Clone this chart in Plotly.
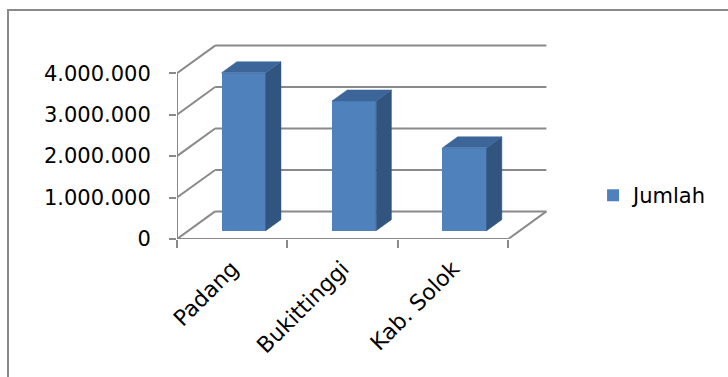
import plotly.graph_objects as go

# --- data -------------------------------------------------------------------
categories = ["Padang", "Bukittinggi", "Kab. Solok"]
jumlah = [3810000, 3130000, 2000000]
y_ticks = [0, 1000000, 2000000, 3000000, 4000000]
series_name = "Jumlah"

# --- oblique 3-D look --------------------------------------------------------
DX = 0.345          # depth shift along x (category units)
DY = 665000         # depth shift along y (value units)
BAR_W = 0.4         # bar width (category units)
D0, D1 = 0.3, 0.7   # bar depth span (fraction of the floor depth)

FRONT = "#4F81BD"
SIDE = "#31557F"
TOP = "#3C6699"
GRID = "#8A8A8A"
FONT = "DejaVu Sans"

n = len(categories)
x_max = 3.45
y_max = 4800000

slots = [i + 0.5 for i in range(n)]
centers = [s + D0 * DX for s in slots]
base = D0 * DY
dxb = (D1 - D0) * DX
dyb = (D1 - D0) * DY

fig = go.Figure()

# side and top faces of each bar
side_x, side_y, top_x, top_y = [], [], [], []
for c, v in zip(centers, jumlah):
    xl, xr = c - BAR_W / 2, c + BAR_W / 2
    yt = base + v
    side_x += [xr, xr, xr + dxb, xr + dxb, xr, None]
    side_y += [base, yt, yt + dyb, base + dyb, base, None]
    top_x += [xl, xr, xr + dxb, xl + dxb, xl, None]
    top_y += [yt, yt, yt + dyb, yt + dyb, yt, None]

fig.add_trace(go.Scatter(x=side_x, y=side_y, fill="toself", fillcolor=SIDE,
                         mode="lines", line=dict(width=0.5, color=SIDE),
                         showlegend=False, hoverinfo="skip"))
fig.add_trace(go.Scatter(x=top_x, y=top_y, fill="toself", fillcolor=TOP,
                         mode="lines", line=dict(width=0.5, color=TOP),
                         showlegend=False, hoverinfo="skip"))

# front faces
fig.add_trace(go.Bar(x=centers, y=jumlah, base=base, width=BAR_W,
                     name=series_name, marker=dict(color=FRONT, line=dict(width=0)),
                     showlegend=True))

# walls and floor, drawn beneath the bars
shapes = []
def seg(x0, y0, x1, y1):
    shapes.append(dict(type="line", xref="x", yref="y", x0=x0, y0=y0, x1=x1, y1=y1,
                       line=dict(color=GRID, width=2), layer="below"))

for t in y_ticks:
    seg(DX, t + DY, n + DX, t + DY)   # back wall gridline
    seg(0, t, DX, t + DY)             # side wall gridline
seg(0, 0, n, 0)                       # floor front edge
seg(n, 0, n + DX, DY)                 # floor right edge
seg(0, 0, 0, y_ticks[-1])             # vertical axis

# chart-area border
shapes.append(dict(type="rect", xref="paper", yref="paper",
                   x0=(8 - 177) / 381, x1=1.6, y0=-0.9, y1=(239 - 10) / 199,
                   line=dict(color=GRID, width=2), fillcolor="rgba(0,0,0,0)", layer="below"))

fig.update_layout(
    width=728, height=377,
    margin=dict(l=177, r=170, t=40, b=138, autoexpand=False),
    paper_bgcolor="white", plot_bgcolor="white",
    separators=",.",
    bargap=0,
    shapes=shapes,
    font=dict(family=FONT, size=21, color="black"),
    xaxis=dict(range=[0, x_max], tickvals=slots, ticktext=categories,
               tickangle=-45, ticks="outside", ticklen=7, tickcolor="rgba(0,0,0,0)",
               showgrid=False, zeroline=False, showline=False,
               tickfont=dict(family=FONT, size=22)),
    xaxis2=dict(range=[0, x_max], overlaying="x", anchor="y", side="bottom",
                tickvals=list(range(n + 1)), ticks="outside", ticklen=8, tickwidth=2,
                tickcolor=GRID, showticklabels=False, showgrid=False,
                zeroline=False, showline=False),
    yaxis=dict(range=[0, y_max], tickvals=y_ticks, tickformat=",.0f",
               ticks="outside", ticklen=7, tickwidth=2, tickcolor=GRID,
               ticklabelstandoff=14,
               showgrid=False, zeroline=False, showline=False,
               tickfont=dict(family=FONT, size=21)),
    legend=dict(x=1.092, y=0.218, xanchor="left", yanchor="middle",
                font=dict(family=FONT, size=21), bgcolor="rgba(0,0,0,0)"),
)

# dummy trace so the boundary tick axis is rendered
fig.add_trace(go.Scatter(x=[0], y=[0], xaxis="x2", mode="markers",
                         marker=dict(opacity=0), showlegend=False, hoverinfo="skip"))

fig.write_html("out.html")
